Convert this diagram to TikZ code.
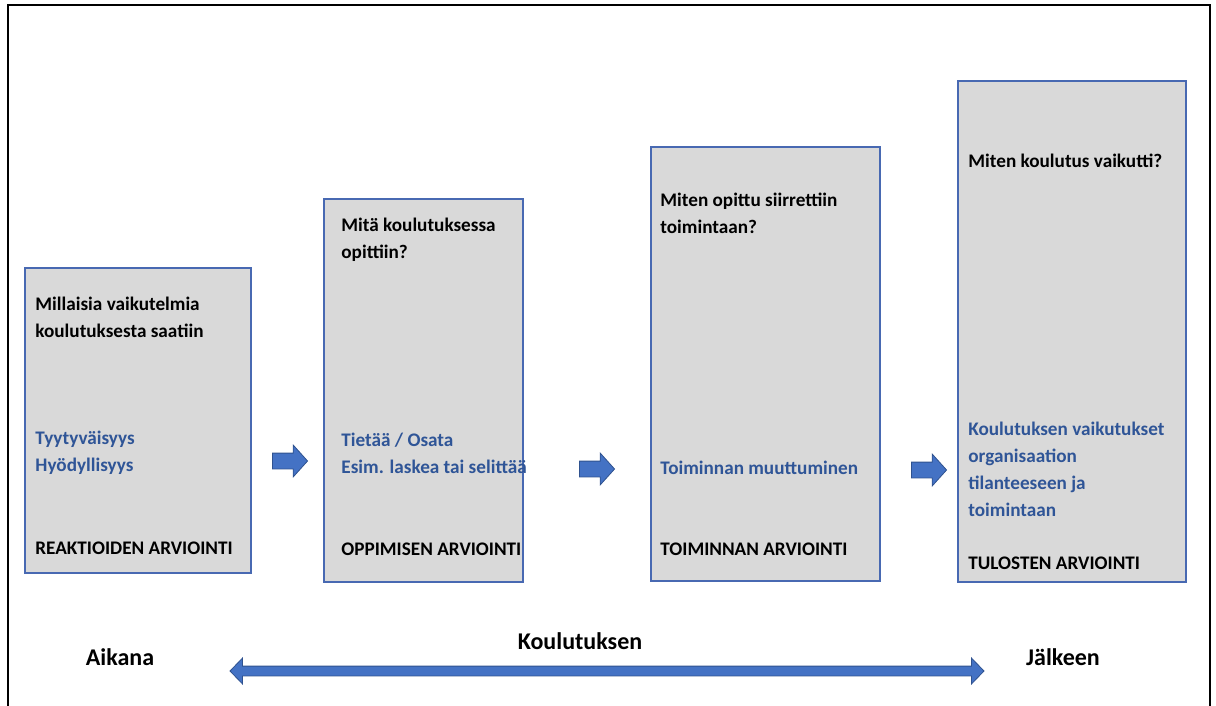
\documentclass[tikz,border=0pt]{standalone}
\usepackage{fontspec}
\setmainfont{Carlito}
\usepackage{xcolor}
\usetikzlibrary{shapes.arrows}

\definecolor{boxgray}{RGB}{217,217,217}
\definecolor{boxline}{RGB}{72,105,178}
\definecolor{arrowfill}{RGB}{68,114,196}
\definecolor{arrowline}{RGB}{47,82,143}
\definecolor{bluetext}{RGB}{47,85,151}

\begin{document}
\begin{tikzpicture}[x=0.5pt, y={(0pt,-0.5pt)},
    box/.style={draw=boxline, fill=boxgray, line width=0.8pt, anchor=north west, inner sep=0pt},
    txt/.style={anchor=west, align=left, inner sep=0pt, font=\fontsize{9.6}{13.6}\selectfont\bfseries},
    bluetxt/.style={txt, text=bluetext},
    lbl/.style={inner sep=0pt, font=\fontsize{12}{14}\selectfont\bfseries},
    stepArrow/.style={single arrow, fill=arrowfill, draw=arrowline, line width=0.4pt, inner xsep=0pt, inner ysep=3.75pt,
        minimum height=17.5pt, single arrow head extend=4pt, single arrow tip angle=96}]
    \useasboundingbox (0,0) rectangle (1216,706);

    % Frame
    \draw[line width=1.3pt] (8,706) -- (8,5) -- (1210,5) -- (1210,706);

    % Box 1
    \node[box, minimum width=113pt, minimum height=152.5pt] (b1) at (24,267) {};
    \node[txt] (b1q) at (35,317) {Millaisia vaikutelmia\\koulutuksesta saatiin};
    \node[bluetxt] (b1a) at (35,452.5) {Tyytyväisyys\\Hyödyllisyys};
    \node[txt] (b1n) at (35,548) {REAKTIOIDEN ARVIOINTI};

    % Box 2
    \node[box, minimum width=99.5pt, minimum height=191.5pt] (b2) at (323,198) {};
    \node[txt] (b2q) at (341,240) {Mitä koulutuksessa\\opittiin?};
    \node[bluetxt] (b2a) at (341,453.5) {Tietää / Osata\\Esim. laskea tai selittää};
    \node[txt] (b2n) at (341,549) {OPPIMISEN ARVIOINTI};

    % Box 3
    \node[box, minimum width=114.5pt, minimum height=217pt] (b3) at (650,146) {};
    \node[txt] (b3q) at (660,213.5) {Miten opittu siirrettiin\\toimintaan?};
    \node[bluetxt] (b3a) at (660,468) {Toiminnan muuttuminen};
    \node[txt] (b3n) at (660,549) {TOIMINNAN ARVIOINTI};

    % Box 4
    \node[box, minimum width=114pt, minimum height=250.5pt] (b4) at (957,80) {};
    \node[txt] (b4q) at (968,161) {Miten koulutus vaikutti?};
    \node[bluetxt] (b4a) at (968,469.5) {Koulutuksen vaikutukset\\organisaation\\tilanteeseen ja\\toimintaan};
    \node[txt] (b4n) at (968,563) {TULOSTEN ARVIOINTI};

    % Arrows
    \node[stepArrow] (a1) at (286.5,461) {};
    \node[stepArrow] (a2) at (593.5,469) {};
    \node[stepArrow] (a3) at (925.5,470) {};
    \node[double arrow, fill=arrowfill, draw=arrowline, line width=0.4pt, inner xsep=0pt, inner ysep=2.25pt,
        minimum height=377pt, double arrow head extend=4pt,
        double arrow tip angle=92] (time) at (607,671) {};

    % Labels
    \node[lbl] (aikana) at (120,657) {Aikana};
    \node[lbl] (koulutuksen) at (580,641) {Koulutuksen};
    \node[lbl] (jalkeen) at (1063,657) {Jälkeen};
\end{tikzpicture}
\end{document}
